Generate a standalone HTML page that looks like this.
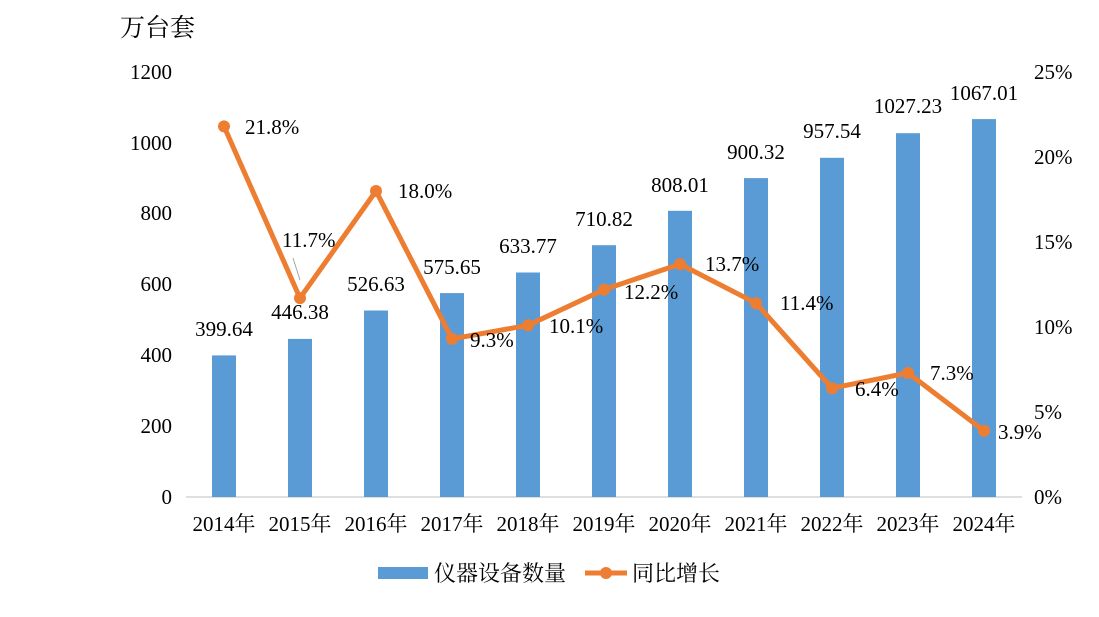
<!DOCTYPE html>
<html><head><meta charset="utf-8"><style>
html,body{margin:0;padding:0;background:#fff;}
svg text{font-family:"Liberation Serif","Noto Serif CJK SC","Noto Sans CJK SC",serif;fill:#000;}
</style></head><body>
<svg width="1099" height="612" xmlns="http://www.w3.org/2000/svg">
<text x="120" y="36" font-size="25">万台套</text>
<g font-size="21" text-anchor="end">
<text x="172" y="504">0</text><text x="172" y="433">200</text><text x="172" y="362">400</text>
<text x="172" y="291">600</text><text x="172" y="220">800</text><text x="172" y="150">1000</text><text x="172" y="79">1200</text>
</g>
<g font-size="21" text-anchor="start">
<text x="1034" y="504">0%</text><text x="1034" y="419">5%</text><text x="1034" y="334">10%</text>
<text x="1034" y="249">15%</text><text x="1034" y="164">20%</text><text x="1034" y="79">25%</text>
</g>
<line x1="186" y1="497" x2="1022" y2="497" stroke="#bfbfbf" stroke-width="1"/>
<g fill="#5B9BD5">
<rect x="212" y="355.4" width="24" height="141.6"/>
<rect x="288" y="338.9" width="24" height="158.1"/>
<rect x="364" y="310.5" width="24" height="186.5"/>
<rect x="440" y="293.1" width="24" height="203.9"/>
<rect x="516" y="272.5" width="24" height="224.5"/>
<rect x="592" y="245.2" width="24" height="251.8"/>
<rect x="668" y="210.8" width="24" height="286.2"/>
<rect x="744" y="178.1" width="24" height="318.9"/>
<rect x="820" y="157.8" width="24" height="339.2"/>
<rect x="896" y="133.2" width="24" height="363.8"/>
<rect x="972" y="119.1" width="24" height="377.9"/>
</g>
<g font-size="21" text-anchor="middle">
<text x="224" y="336">399.64</text><text x="300" y="319">446.38</text><text x="376" y="291">526.63</text>
<text x="452" y="274">575.65</text><text x="528" y="253">633.77</text><text x="604" y="226">710.82</text>
<text x="680" y="192">808.01</text><text x="756" y="159">900.32</text><text x="832" y="138">957.54</text>
<text x="908" y="113">1027.23</text><text x="984" y="100">1067.01</text>
</g>
<line x1="293" y1="258" x2="300" y2="280" stroke="#a6a6a6" stroke-width="1"/>
<polyline fill="none" stroke="#ED7D31" stroke-width="5" stroke-linejoin="round"
points="224,126.4 300,298.1 376,191 452,338.9 528,325.3 604,289.6 680,264.1 756,303.2 832,388.2 908,372.9 984,430.7"/>
<g fill="#ED7D31">
<circle cx="224" cy="126.4" r="6"/><circle cx="300" cy="298.1" r="6"/><circle cx="376" cy="191" r="6"/>
<circle cx="452" cy="338.9" r="6"/><circle cx="528" cy="325.3" r="6"/><circle cx="604" cy="289.6" r="6"/>
<circle cx="680" cy="264.1" r="6"/><circle cx="756" cy="303.2" r="6"/><circle cx="832" cy="388.2" r="6"/>
<circle cx="908" cy="372.9" r="6"/><circle cx="984" cy="430.7" r="6"/>
</g>
<g font-size="21">
<text x="245" y="134">21.8%</text><text x="282" y="247">11.7%</text><text x="398" y="198">18.0%</text>
<text x="470" y="347">9.3%</text><text x="549" y="333">10.1%</text><text x="624" y="299">12.2%</text>
<text x="705" y="271">13.7%</text><text x="780" y="310">11.4%</text><text x="855" y="396">6.4%</text>
<text x="930" y="380">7.3%</text><text x="998" y="439">3.9%</text>
</g>
<g font-size="21" text-anchor="middle">
<text x="224" y="531">2014年</text><text x="300" y="531">2015年</text><text x="376" y="531">2016年</text>
<text x="452" y="531">2017年</text><text x="528" y="531">2018年</text><text x="604" y="531">2019年</text>
<text x="680" y="531">2020年</text><text x="756" y="531">2021年</text><text x="832" y="531">2022年</text>
<text x="908" y="531">2023年</text><text x="984" y="531">2024年</text>
</g>
<rect x="378" y="567" width="50" height="12" fill="#5B9BD5"/>
<text x="434" y="581" font-size="22">仪器设备数量</text>
<line x1="585" y1="573" x2="627" y2="573" stroke="#ED7D31" stroke-width="5"/>
<circle cx="606" cy="573" r="6" fill="#ED7D31"/>
<text x="632" y="581" font-size="22">同比增长</text>
</svg>
</body></html>
